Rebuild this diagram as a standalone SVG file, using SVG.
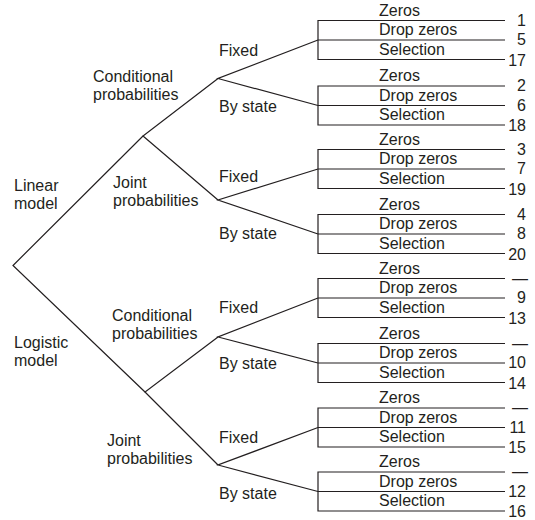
<svg xmlns="http://www.w3.org/2000/svg" width="535" height="520" viewBox="0 0 535 520">
<style>
text{font-family:"Liberation Sans",Arial,sans-serif;font-size:16px;fill:#231f20}
.n{text-anchor:end}
.ln{fill:none;stroke:#231f20;stroke-width:1.2}
</style>
<rect width="535" height="520" fill="#fff"/>
<g id="connectors" class="ln">
<path d="M143,136 L13,265.5 L145,392"/>
<path d="M218,78.5 L143,136 L218,200"/>
<path d="M218,337 L145,392 L218,465"/>
<path d="M318,40 L218,78.5 L318,105.5"/>
<path d="M318,169 L218,200 L318,234"/>
<path d="M318,298 L218,337 L318,363"/>
<path d="M318,427.5 L218,465 L318,491.5"/>
</g>
<g id="root-labels">
<text x="14" y="190.5">Linear</text><text x="14" y="208.5">model</text>
<text x="14" y="348">Logistic</text><text x="14" y="366">model</text>
</g>
<g id="n-lin-cond"><text x="93" y="82">Conditional</text><text x="93" y="100">probabilities</text></g>
<g id="n-lin-joint"><text x="113" y="188">Joint</text><text x="113" y="206">probabilities</text></g>
<g id="n-log-cond"><text x="112" y="321">Conditional</text><text x="112" y="339">probabilities</text></g>
<g id="n-log-joint"><text x="107" y="446">Joint</text><text x="107" y="464">probabilities</text></g>
<g id="n-fixed-bystate">
<text x="219" y="55.5">Fixed</text><text x="219" y="111.5">By state</text>
<text x="219" y="182">Fixed</text><text x="219" y="238.5">By state</text>
<text x="219" y="312.5">Fixed</text><text x="219" y="368.5">By state</text>
<text x="219" y="443">Fixed</text><text x="219" y="499">By state</text>
</g>
<g id="g1"><path class="ln" d="M505,20.5 H318 V59.5 H505 M318,40 H505"/><text x="379" y="15.5">Zeros</text><text x="379" y="35">Drop zeros</text><text x="379" y="54.5">Selection</text><text class="n" x="526" y="25.5">1</text><text class="n" x="526" y="45">5</text><text class="n" x="526" y="65.5">17</text></g>
<g id="g2"><path class="ln" d="M505,86 H318 V125 H505 M318,105.5 H505"/><text x="379" y="81">Zeros</text><text x="379" y="100.5">Drop zeros</text><text x="379" y="120">Selection</text><text class="n" x="526" y="91">2</text><text class="n" x="526" y="110.5">6</text><text class="n" x="526" y="131">18</text></g>
<g id="g3"><path class="ln" d="M505,149.5 H318 V188.5 H505 M318,169 H505"/><text x="379" y="144.5">Zeros</text><text x="379" y="164">Drop zeros</text><text x="379" y="183.5">Selection</text><text class="n" x="526" y="154.5">3</text><text class="n" x="526" y="174">7</text><text class="n" x="526" y="194.5">19</text></g>
<g id="g4"><path class="ln" d="M505,214.5 H318 V253.5 H505 M318,234 H505"/><text x="379" y="209.5">Zeros</text><text x="379" y="229">Drop zeros</text><text x="379" y="248.5">Selection</text><text class="n" x="526" y="219.5">4</text><text class="n" x="526" y="239">8</text><text class="n" x="526" y="259.5">20</text></g>
<g id="g5"><path class="ln" d="M505,278.5 H318 V317.5 H505 M318,298 H505"/><text x="379" y="273.5">Zeros</text><text x="379" y="293">Drop zeros</text><text x="379" y="312.5">Selection</text><text class="n" x="528" y="283.5">—</text><text class="n" x="526" y="303">9</text><text class="n" x="526" y="323.5">13</text></g>
<g id="g6"><path class="ln" d="M505,343.5 H318 V382.5 H505 M318,363 H505"/><text x="379" y="338.5">Zeros</text><text x="379" y="358">Drop zeros</text><text x="379" y="377.5">Selection</text><text class="n" x="528" y="348.5">—</text><text class="n" x="526" y="368">10</text><text class="n" x="526" y="388.5">14</text></g>
<g id="g7"><path class="ln" d="M505,408 H318 V447 H505 M318,427.5 H505"/><text x="379" y="403">Zeros</text><text x="379" y="422.5">Drop zeros</text><text x="379" y="442">Selection</text><text class="n" x="528" y="413">—</text><text class="n" x="526" y="432.5">11</text><text class="n" x="526" y="453">15</text></g>
<g id="g8"><path class="ln" d="M505,472 H318 V511 H505 M318,491.5 H505"/><text x="379" y="467">Zeros</text><text x="379" y="486.5">Drop zeros</text><text x="379" y="506">Selection</text><text class="n" x="528" y="477">—</text><text class="n" x="526" y="496.5">12</text><text class="n" x="526" y="517">16</text></g>
</svg>
